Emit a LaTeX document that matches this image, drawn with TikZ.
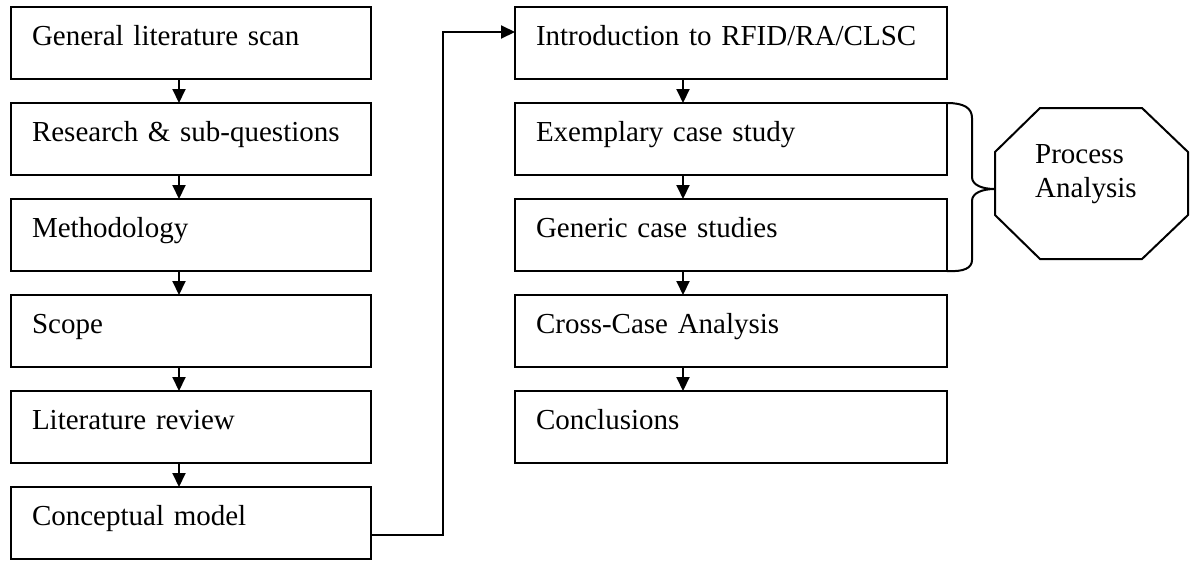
\documentclass[tikz,border=0pt]{standalone}
\usepackage{fontspec}
\setmainfont{Liberation Serif}
\usetikzlibrary{arrows.meta}
\begin{document}
\begin{tikzpicture}[x=1pt,y=-1pt,
  stepbox/.style={draw, line width=2pt, rectangle, anchor=north west,
    outer sep=0pt, inner xsep=21pt, inner ysep=0pt,
    text height=38pt, text depth=34pt, align=left,
    font=\fontsize{29}{33}\selectfont},
  leftbox/.style={stepbox, text width=318pt},
  rightbox/.style={stepbox, text width=390pt},
  flow/.style={line width=2pt, -{Triangle[width=13pt,length=14pt]}},
  thin line/.style={line width=2pt}
]
\useasboundingbox (0,0) rectangle (1193,560);

% left column
\node[leftbox] (g1) at (11,7)   {General literature scan};
\node[leftbox] (g2) at (11,103) {Research \& sub-questions};
\node[leftbox] (g3) at (11,199) {Methodology};
\node[leftbox] (g4) at (11,295) {Scope};
\node[leftbox] (g5) at (11,391) {Literature review};
\node[leftbox] (g6) at (11,487) {Conceptual model};

% right column
\node[rightbox] (r1) at (515,7)   {Introduction to RFID/RA/CLSC};
\node[rightbox] (r2) at (515,103) {Exemplary case study};
\node[rightbox] (r3) at (515,199) {Generic case studies};
\node[rightbox] (r4) at (515,295) {Cross-Case Analysis};
\node[rightbox] (r5) at (515,391) {Conclusions};

% vertical flow arrows
\foreach \a/\b in {g1/g2,g2/g3,g3/g4,g4/g5,g5/g6,r1/r2,r2/r3,r3/r4,r4/r5}
  \draw[flow] ([xshift=168pt]\a.south west) -- ([xshift=168pt]\b.north west);

% link between the two columns
\draw[flow] ([yshift=-12pt]g6.east) -- ++(72,0) |- ([yshift=11pt]r1.west);

% brace grouping the two case studies
\coordinate (tip) at (995,189);
\draw[thin line] (r2.north east) .. controls (964,103) and (972,108) .. (972,118)
  -- (972,177) .. controls (972,185) and (982,189) .. (tip)
  .. controls (982,189) and (972,193) .. (972,201)
  -- (972,260) .. controls (972,268) and (964,272) .. (r3.south east);

% octagon
\draw[thin line] (995,152) -- (1040,108) -- (1142,108) -- (1188,152)
  -- (1188,215) -- (1142,259) -- (1040,259) -- (995,215) -- cycle;
\node[anchor=base west, inner sep=0pt, font=\fontsize{29}{34}\selectfont]
  (pa1) at (1035,163) {Process};
\node[anchor=base west, inner sep=0pt, font=\fontsize{29}{34}\selectfont]
  (pa2) at (1035,197) {Analysis};
\end{tikzpicture}
\end{document}
